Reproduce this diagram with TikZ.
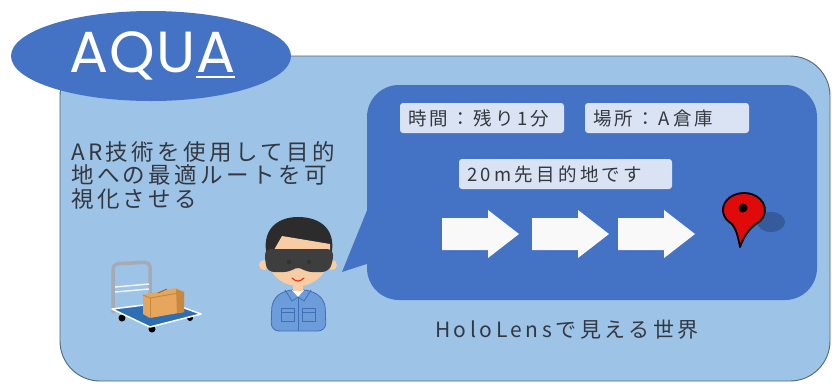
\documentclass[tikz,border=0pt]{standalone}
\usepackage{fontspec}
\newfontfamily\jpfont[LetterSpace=15]{Noto Sans CJK JP}
\newfontfamily\jplabel[LetterSpace=18]{Noto Sans CJK JP}
\newfontfamily\jpworld[LetterSpace=17]{Noto Sans CJK JP}
\newfontfamily\aquafont[LetterSpace=2]{Poppins}
\definecolor{panel}{HTML}{9DC3E6}
\definecolor{panelline}{HTML}{51677F}
\definecolor{bubble}{HTML}{4472C4}
\definecolor{labelfill}{HTML}{DAE3F3}
\definecolor{inktext}{HTML}{333840}
\definecolor{hair}{HTML}{2C2C2C}
\definecolor{skin}{HTML}{F8CDA4}
\definecolor{jacket}{HTML}{6C9CDA}
\definecolor{jacketline}{HTML}{3F6FB5}
\definecolor{goggle}{HTML}{3E3E3E}
\definecolor{boxtan}{HTML}{E6A65E}
\definecolor{boxdark}{HTML}{C98840}
\definecolor{platform}{HTML}{2E6EB4}
\definecolor{handle}{HTML}{A4ABB5}
\definecolor{pinred}{HTML}{E00A0A}
\tikzset{
  infolabel/.style={fill=labelfill, rounded corners=3pt, inner ysep=0pt,
    inner xsep=8pt, align=left, minimum height=30pt, text=inktext,
    font=\jplabel\fontsize{18.5}{20}\selectfont},
  navarrow/.style={fill=white!95!gray},
  titletext/.style={inner sep=0pt, text=white, font=\aquafont\fontsize{58}{62}\selectfont},
}
\begin{document}
\begin{tikzpicture}[x=1pt,y=-1pt]
\useasboundingbox (0,0) rectangle (832,384);
\fill[white] (0,0) rectangle (832,384);

% outer panel
\draw[panelline, line width=0.9pt, fill=panel, rounded corners=40pt]
  (60,56) rectangle (830,381);

% title ellipse
\fill[bubble] (151,56) ellipse [x radius=140pt, y radius=45pt];
\node[titletext, anchor=base east] (aqu) at (196,72) {AQU};
\node[titletext, anchor=base west] (lastA) at (aqu.base east) {A};
\draw[white, line width=2.3pt] ([yshift=-5pt]lastA.base west) -- ([yshift=-5pt]lastA.base east);

% description
\node[anchor=north west, inner sep=0pt, align=left, text=inktext,
  font=\jpfont\fontsize{22.5}{23.5}\selectfont] (desc) at (71,141)
  {AR技術を使用して目的\\地への最適ルートを可\\視化させる};

% HoloLens view bubble
\fill[bubble] (342,272) -- (372,198) -- (385,258) -- cycle;
\fill[bubble, rounded corners=32pt] (367,85) rectangle (817,300);

\node[infolabel, minimum width=164pt, text width=148pt] (time) at (482,118) {時間：残り1分};
\node[infolabel, minimum width=164pt, text width=148pt] (place) at (667,118) {場所：A倉庫};
\node[infolabel, minimum width=213pt, text width=197pt] (dest) at (565.5,174) {20m先目的地です};

% route arrows
\foreach \x in {442,532,618}{
  \fill[navarrow] (\x,218) -- (\x+46,218) -- (\x+46,210) -- (\x+77,234)
    -- (\x+46,258) -- (\x+46,250) -- (\x,250) -- cycle;
}

% destination pin with its shadow
\fill[black!45!bubble, opacity=0.45] (771,222) ellipse [x radius=14pt, y radius=10pt];
\draw[black, line width=1.8pt, fill=pinred, line join=round]
  (740,247) .. controls (738,236) and (736,229) .. (731.9,223.9)
  arc[start angle=235, end angle=-55, x radius=21pt, y radius=17pt]
  .. controls (749,229) and (744,236) .. cycle;
\fill[black] (743,208) circle[radius=4.5pt];

\node[text=inktext, inner sep=0pt, font=\jpworld\fontsize{21}{23}\selectfont]
  (world) at (567,330) {HoloLensで見える世界};

% hand truck with cardboard box
\draw[handle, line width=3.5pt, line cap=round, rounded corners=5pt]
  (113,312) -- (113,264) -- (150,262) -- (150,300);
\draw[white!85!handle, line width=1.5pt] (115,287) -- (149,284);
\draw[white!85!handle, line width=1.5pt] (115,292) -- (149,289);
\fill[black] (122,318) circle[radius=3.5pt];
\fill[black] (152,329) circle[radius=3.5pt];
\fill[black] (190,318) circle[radius=3pt];
\draw[white, line width=1.5pt, fill=platform, line join=round]
  (112,309) -- (168,302) -- (201,314) -- (150,327) -- cycle;
\fill[boxtan] (143,295) -- (176,288) -- (184,292) -- (184,312) -- (150,318) -- (143,314) -- cycle;
\fill[boxdark] (176,289) -- (184,292) -- (184,312) -- (177,313) -- cycle;
\draw[boxdark, line width=1pt] (143,295) -- (150,298) -- (184,292);
\draw[boxdark, line width=1pt] (150,298) -- (150,318);
\draw[boxdark!80!black, line width=1pt] (158,293) -- (167,289);

% worker wearing a headset
\fill[jacket, draw=jacketline, line width=0.8pt, rounded corners=8pt]
  (271,331) -- (272,300) -- (285,290) -- (311,290) -- (325,300) -- (326,331) -- cycle;
\fill[white] (292,290) -- (304,290) -- (298,297) -- cycle;
\draw[jacketline, line width=0.8pt] (298,297) -- (298,331);
\draw[jacketline, line width=0.8pt] (285,290) -- (292,301) -- (298,297) -- (304,301) -- (311,290);
\draw[jacketline, line width=0.8pt] (281,308) rectangle (294,321);
\draw[jacketline, line width=0.8pt] (302,308) rectangle (315,321);
\draw[jacketline, line width=0.8pt] (281,312) -- (294,312) (302,312) -- (315,312);
\fill[skin] (293,282) rectangle (303,291);
\fill[skin] (264,265) circle[radius=5pt];
\fill[skin] (332,265) circle[radius=5pt];
\fill[skin] (298,258) ellipse [x radius=30pt, y radius=28pt];
\fill[hair] (267,256) .. controls (261,231) and (276,217) .. (298,217)
  .. controls (322,217) and (337,231) .. (331,256) -- cycle;
\fill[skin] (274,250) -- (282,236) -- (330,244) -- (330,250) -- cycle;
\fill[goggle, rounded corners=6pt]
  (265,249) -- (333,249) -- (333,262) -- (328,272) -- (306,272) -- (298,266)
  -- (290,272) -- (268,272) -- (265,262) -- cycle;
\fill[black!80] (289,262) circle[radius=2.2pt];
\fill[black!80] (309,262) circle[radius=2.2pt];
\draw[red!55!brown, line width=1.2pt, line cap=round] (292,278) .. controls (296,282) and (300,282) .. (304,278);
\end{tikzpicture}
\end{document}
